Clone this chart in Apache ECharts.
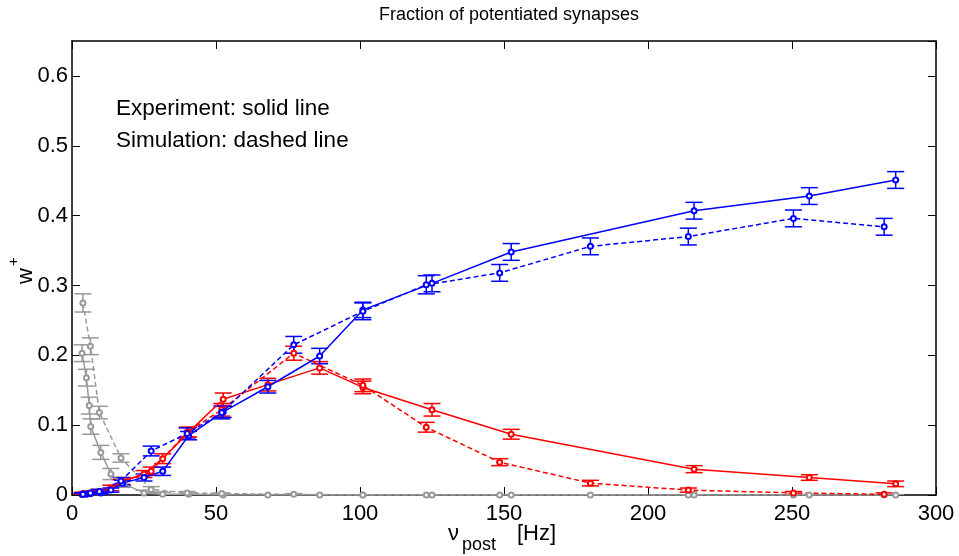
<!DOCTYPE html>
<html>
<head>
<meta charset="utf-8">
<script src="https://cdn.jsdelivr.net/npm/echarts@6/dist/echarts.min.js"></script>
<style>
  html,body{margin:0;padding:0;background:#fff}
  #main{width:959px;height:556px}
</style>
</head>
<body>
<div id="main"></div>
<script>
// 实验点 (solid) 和 仿真点 (dashed) 的横坐标
const xExp = [3.5, 5, 6, 6.5, 10, 13.5, 17.5, 25, 31.5, 40.5, 52.5, 68, 86, 101, 125, 152.5, 216, 256, 286]
const xSim = [3.8, 6.4, 9.5, 17, 27.5, 40, 52, 77, 101, 123, 148.5, 180, 214, 250.5, 282]

const blueExp    = [0.001, 0.001, 0.002, 0.002, 0.003, 0.007, 0.017, 0.025, 0.034, 0.085, 0.119, 0.155, 0.199, 0.265, 0.303, 0.348, 0.407, 0.428, 0.451]
const blueExpErr = [0.002, 0.002, 0.002, 0.002, 0.002, 0.003, 0.004, 0.005, 0.006, 0.006, 0.008, 0.009, 0.011, 0.011, 0.012, 0.012, 0.012, 0.012, 0.012]
const redExp     = [0.001, 0.002, 0.002, 0.003, 0.004, 0.010, 0.020, 0.030, 0.052, 0.090, 0.137, 0.158, 0.182, 0.154, 0.122, 0.087, 0.037, 0.025, 0.016]
const redExpErr  = [0.002, 0.002, 0.002, 0.002, 0.003, 0.004, 0.005, 0.005, 0.007, 0.007, 0.009, 0.009, 0.009, 0.009, 0.009, 0.007, 0.005, 0.004, 0.004]
const grayExp    = [0.203, 0.168, 0.128, 0.098, 0.061, 0.030, 0.017, 0.003, 0.001, 0.001, 0, 0, 0, 0, 0, 0, 0, 0, 0]
const grayExpErr = [0.012, 0.012, 0.012, 0.011, 0.010, 0.008, 0.006, 0.004, 0.003, 0.002, 0.001, 0, 0, 0, 0, 0, 0, 0, 0]

const blueSim    = [0.001, 0.003, 0.005, 0.020, 0.063, 0.088, 0.118, 0.215, 0.263, 0.301, 0.318, 0.356, 0.370, 0.396, 0.384]
const blueSimErr = [0.002, 0.002, 0.003, 0.005, 0.007, 0.008, 0.009, 0.012, 0.012, 0.013, 0.012, 0.012, 0.012, 0.012, 0.012]
const redSim     = [0.002, 0.003, 0.005, 0.018, 0.034, 0.090, 0.122, 0.203, 0.157, 0.097, 0.047, 0.017, 0.007, 0.003, 0.001]
const redSimErr  = [0.002, 0.002, 0.003, 0.004, 0.006, 0.007, 0.009, 0.010, 0.009, 0.007, 0.005, 0.004, 0.003, 0.002, 0.002]
const graySim    = [0.275, 0.213, 0.118, 0.053, 0.008, 0.003, 0.002, 0.001, 0, 0, 0, 0, 0, 0, 0]
const graySimErr = [0.013, 0.012, 0.009, 0.006, 0.004, 0.002, 0.001, 0.001, 0, 0, 0, 0, 0, 0, 0]

const xTicks = [0, 50, 100, 150, 200, 250, 300]
const yTicks = [0, 0.1, 0.2, 0.3, 0.4, 0.5, 0.6]

const FONT = 'Liberation Sans, Arial, Helvetica, sans-serif'
const BLUE = '#0000ff', RED = '#ff0000', GRAY = '#999999'

//- 误差棒
function errSeries(xs, ys, es, color){
  return {
    type: 'custom', clip: true, silent: true,
    data: xs.map((x,i)=>[x, ys[i]-es[i], ys[i]+es[i]]),
    renderItem: function(params, api){
      let lo = api.coord([api.value(0), api.value(1)])
      let hi = api.coord([api.value(0), api.value(2)])
      let w = 8.5, st = {stroke: color, lineWidth: 1.5}
      return {type:'group', children:[
        {type:'line', shape:{x1:lo[0],y1:lo[1],x2:hi[0],y2:hi[1]}, style:st},
        {type:'line', shape:{x1:lo[0]-w,y1:lo[1],x2:lo[0]+w,y2:lo[1]}, style:st},
        {type:'line', shape:{x1:hi[0]-w,y1:hi[1],x2:hi[0]+w,y2:hi[1]}, style:st}
      ]}
    }
  }
}

//- 折线
function lineSeries(xs, ys, color, dashed){
  return {
    type: 'line', silent: true, animation: false,
    data: xs.map((x,i)=>[x, ys[i]]),
    symbol: 'emptyCircle', symbolSize: 5,
    itemStyle: {color: color, borderColor: color, borderWidth: 1.8},
    lineStyle: {color: color, width: 1.5, type: dashed ? [5,3] : 'solid'}
  }
}

const axisCommon = {
  axisLine: {show: true, onZero: false, lineStyle: {color: '#000', width: 1.5}},
  axisTick: {show: true, inside: true, length: 8, lineStyle: {color: '#000', width: 1}},
  splitLine: {show: false}
}

let myChart = echarts.init(document.getElementById('main'))
let option = {
  animation: false,
  backgroundColor: '#fff',
  title: {text: 'Fraction of potentiated synapses', left: 504, top: 1, textAlign: 'center',
    textStyle: {fontFamily: FONT, fontSize: 18, fontWeight: 'normal', color: '#000'}},
  grid: {left: 72, right: 23, top: 41, bottom: 61, containLabel: false, outerBoundsMode: 'none'},
  xAxis: [
    Object.assign({type: 'value', min: xTicks[0], max: xTicks[xTicks.length-1], interval: 50, position: 'bottom',
      axisLabel: {fontFamily: FONT, fontSize: 22, color: '#000', margin: 8}}, axisCommon),
    Object.assign({type: 'value', min: xTicks[0], max: xTicks[xTicks.length-1], interval: 50, position: 'top',
      axisLabel: {show: false}}, axisCommon)
  ],
  yAxis: [
    Object.assign({type: 'value', min: yTicks[0], max: 0.65, interval: 0.1, position: 'left',
      axisLabel: {fontFamily: FONT, fontSize: 22, color: '#000', margin: 4, showMaxLabel: false,
        formatter: v => String(+v.toFixed(1))}}, axisCommon),
    Object.assign({type: 'value', min: yTicks[0], max: 0.65, interval: 0.1, position: 'right',
      axisLabel: {show: false}}, axisCommon)
  ],
  graphic: [
    {type:'text', left: 116, top: 97, style:{text:'Experiment: solid line', font:'22.5px '+FONT, fill:'#000'}},
    {type:'text', left: 116, top: 129, style:{text:'Simulation: dashed line', font:'22.5px '+FONT, fill:'#000'}},
    {type:'text', x: 448, y: 523, style:{text:'ν', font:'22px '+FONT, fill:'#000'}},
    {type:'text', x: 462, y: 536, style:{text:'post', font:'18px '+FONT, fill:'#000'}},
    {type:'text', x: 517, y: 523, style:{text:'[Hz]', font:'22px '+FONT, fill:'#000'}},
    {type:'text', x: 15, y: 284, rotation: Math.PI/2, style:{text:'w', font:'22px '+FONT, fill:'#000'}},
    {type:'text', x: 6, y: 266, rotation: Math.PI/2, style:{text:'+', font:'15px '+FONT, fill:'#000'}}
  ],
  series: [
    errSeries(xExp, grayExp, grayExpErr, GRAY), lineSeries(xExp, grayExp, GRAY, false),
    errSeries(xSim, graySim, graySimErr, GRAY), lineSeries(xSim, graySim, GRAY, true),
    errSeries(xExp, redExp, redExpErr, RED),    lineSeries(xExp, redExp, RED, false),
    errSeries(xSim, redSim, redSimErr, RED),    lineSeries(xSim, redSim, RED, true),
    errSeries(xExp, blueExp, blueExpErr, BLUE), lineSeries(xExp, blueExp, BLUE, false),
    errSeries(xSim, blueSim, blueSimErr, BLUE), lineSeries(xSim, blueSim, BLUE, true)
  ]
}
myChart.setOption(option)
</script>
</body>
</html>
